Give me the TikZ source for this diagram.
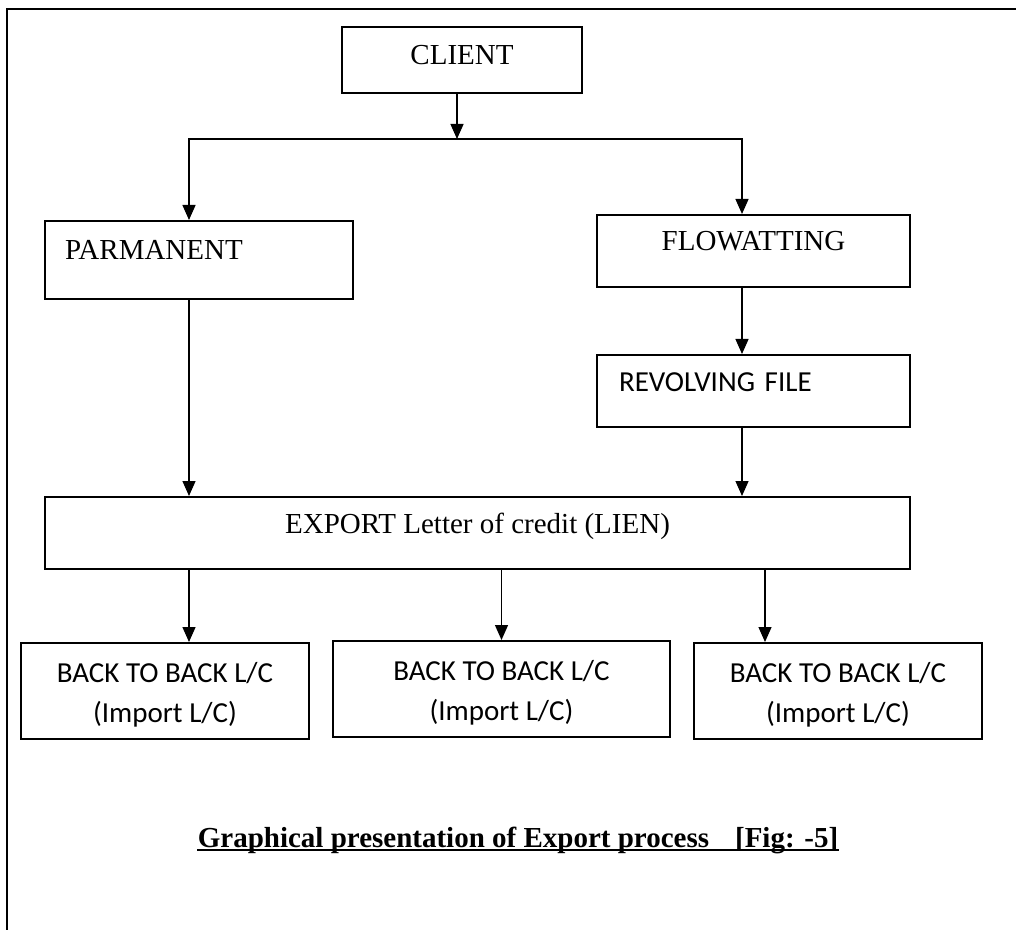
\documentclass[tikz,border=0pt]{standalone}
\usepackage{fontspec}
\setmainfont{Liberation Serif}
\newfontfamily\calibri{Carlito}
\usetikzlibrary{arrows.meta}

\begin{document}
\begin{tikzpicture}[
x=0.5pt, y=-0.5pt,
>={Triangle[length=7.5pt,width=6.5pt]},
line width=0.65pt
]

\tikzstyle{c} = [draw, shape=rectangle, line width=1pt, font=\fontsize{14.5}{17}\selectfont, text height=5pt, text depth=5pt]
\tikzstyle{k} = [draw, shape=rectangle, line width=1pt, font=\calibri\fontsize{14.5}{20}\selectfont, align=center, minimum height=48pt]
\tikzstyle{a} = [->]

\useasboundingbox (0,0) rectangle (1016,930);
\draw[line width=1.1pt] (1016,9) -- (7,9) -- (7,930);

\node[c, minimum width=120pt, minimum height=33pt, text height=7pt, text depth=2pt] (client) at (462,60) {CLIENT};
\node[c, text width=134pt, inner xsep=10pt, minimum height=39pt, align=left] (parm) at (199,260) {PARMANENT};
\node[c, minimum width=156.5pt, minimum height=36pt] (flow) at (753.5,251) {FLOWATTING};
\node[c, font=\calibri\fontsize{14.5}{17}\selectfont, text width=134.5pt, inner xsep=11pt, minimum height=36pt, align=left] (rev) at (753.5,391) {REVOLVING FILE};
\node[c, minimum width=432.5pt, minimum height=36pt] (export) at (477.5,533) {EXPORT Letter of credit (LIEN)};

\node[k, minimum width=144pt] (back1) at (165,691) {\rule{0pt}{13.5pt}BACK TO BACK L/C\\(Import L/C)};
\node[k, minimum width=168.5pt] (back2) at (501.5,689) {\rule{0pt}{13.5pt}BACK TO BACK L/C\\(Import L/C)};
\node[k, minimum width=144pt] (back3) at (838,691) {\rule{0pt}{13.5pt}BACK TO BACK L/C\\(Import L/C)};

% client splits in two
\coordinate (split) at (457,139);
\draw[a] (client.south -| split) -- (split);
\draw[a] (split) -| ([xshift=-5pt]parm.north);
\draw[a] (split) -| ([xshift=-5.75pt]flow.north);

\draw[a] ([xshift=-5pt]parm.south) -- ([xshift=-5pt]parm.south |- export.north);
\draw[a] ([xshift=-5.75pt]flow.south) -- ([xshift=-5.75pt]rev.north);
\draw[a] ([xshift=-5.75pt]rev.south) -- ([xshift=-5.75pt]rev.south |- export.north);

% export to the three l/c
\draw[a] ([xshift=-144.25pt]export.south) -- ([xshift=12pt]back1.north);
\draw[a] (export.south -| back2.north) -- (back2.north);
\draw[a] ([xshift=143.75pt]export.south) -- ([xshift=-36.5pt]back3.north);

\node[font=\bfseries\fontsize{14.5}{17}\selectfont, inner sep=0pt, anchor=base] (cap) at (518,847) {Graphical presentation of Export process\hspace{13pt}[Fig: -5]};
\draw[line width=1pt] ([yshift=-1.5pt]cap.base west) -- ([yshift=-1.5pt]cap.base east);
\end{tikzpicture}
\end{document}
